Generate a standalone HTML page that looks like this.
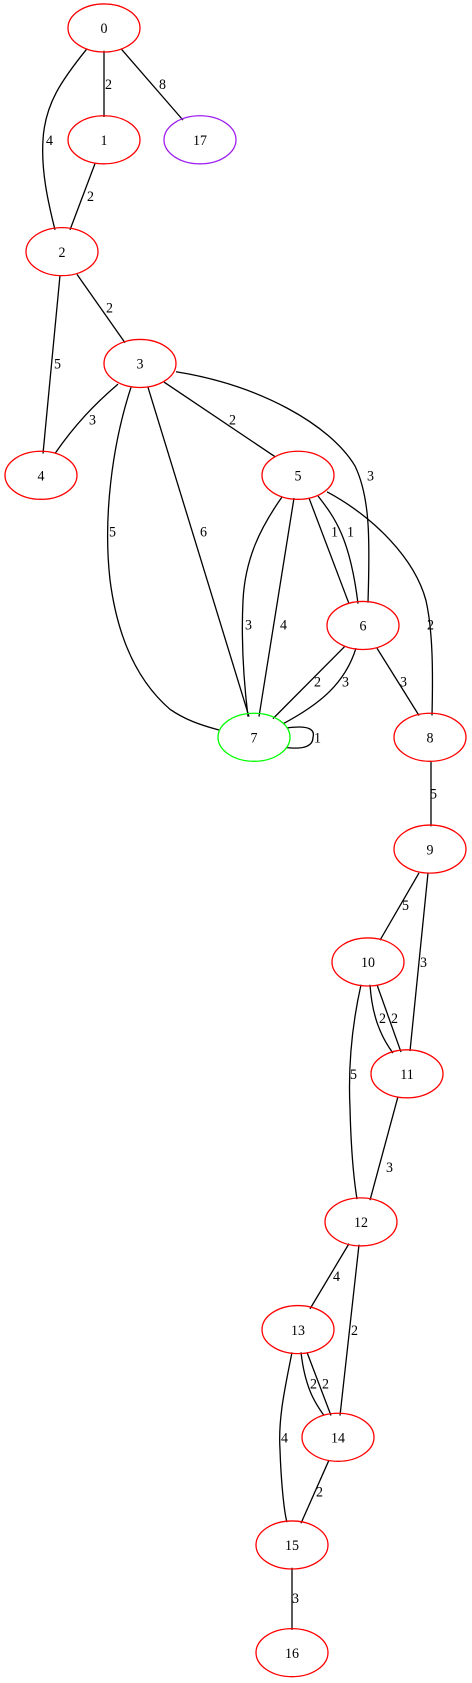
<!DOCTYPE html>
<html><head><meta charset="utf-8"><style>
html,body{margin:0;padding:0;background:#fff;}
svg{display:block;}
text{font-family:"Liberation Serif",serif;font-size:14px;fill:#000;}
.e{fill:none;stroke:#000;stroke-width:1.3;vector-effect:non-scaling-stroke;}
.n{fill:none;stroke:#f00;stroke-width:1.3;vector-effect:non-scaling-stroke;}
</style></head><body>
<svg width="472" height="1683" viewBox="0 0 472 1683" xmlns="http://www.w3.org/2000/svg">
<g transform="scale(1,1.0355)">
<g>
<path class="e" d="M104,49 L104,113"/>
<path class="e" d="M121,47 L183,116"/>
<path class="e" d="M87,47 C62,77 45,100 43,135 C41,165 48,195 55,222"/>
<path class="e" d="M95,158 L70,222"/>
<path class="e" d="M60,266 L43,438"/>
<path class="e" d="M77,265 L125,331"/>
<path class="e" d="M118,371 C95,390 75,410 55,438"/>
<path class="e" d="M131,374 C112,430 103,500 110,560 C118,620 140,660 170,685 C185,695 200,700 219,705"/>
<path class="e" d="M148,374 L249,692"/>
<path class="e" d="M164,369 L275,441"/>
<path class="e" d="M176,359 C260,372 330,410 355,450 C370,480 370,520 368,582"/>
<path class="e" d="M282,480 C260,510 245,540 243,580 C241,620 244,660 248,692"/>
<path class="e" d="M294,481 L259,692"/>
<path class="e" d="M309,481 L349,583"/>
<path class="e" d="M318,479 C335,500 350,520 358,583"/>
<path class="e" d="M327,475 C375,500 415,540 426,580 C433,610 433,650 432,691"/>
<path class="e" d="M345,624 L273,694"/>
<path class="e" d="M356,626 C345,660 320,680 283,699"/>
<path class="e" d="M377,626 L419,691"/>
<path class="e" d="M287,703 C310,700 315,705 313,712 C313,720 305,724 287,722"/>
<path class="e" d="M431,735 L431,798"/>
<path class="e" d="M419,843 L380,908"/>
<path class="e" d="M428,843 L410,1015"/>
<path class="e" d="M370,951 C372,980 380,1000 393,1017"/>
<path class="e" d="M377,951 L401,1016"/>
<path class="e" d="M361,951 C352,990 348,1030 350,1070 C351,1110 354,1140 357,1158"/>
<path class="e" d="M398,1059 L370,1159"/>
<path class="e" d="M349,1201 L310,1264"/>
<path class="e" d="M359,1202 L340,1367"/>
<path class="e" d="M301,1306 C305,1340 315,1355 324,1367"/>
<path class="e" d="M307,1306 L331,1367"/>
<path class="e" d="M292,1306 C285,1340 278,1370 280,1400 C281,1430 284,1460 287,1470"/>
<path class="e" d="M329,1410 L301,1471"/>
<path class="e" d="M292,1514 L292,1574"/>
</g>
<g>
<text x="105" y="86">2</text>
<text x="159" y="86">8</text>
<text x="46" y="140">4</text>
<text x="87" y="194">2</text>
<text x="54" y="356">5</text>
<text x="106" y="302">2</text>
<text x="89" y="410">3</text>
<text x="109" y="518">5</text>
<text x="200" y="518">6</text>
<text x="229" y="410">2</text>
<text x="367" y="464">3</text>
<text x="245" y="608">3</text>
<text x="280" y="608">4</text>
<text x="331" y="518">1</text>
<text x="347" y="518">1</text>
<text x="427" y="608">2</text>
<text x="314" y="663">2</text>
<text x="342" y="663">3</text>
<text x="400" y="663">3</text>
<text x="314" y="717">1</text>
<text x="430" y="771">5</text>
<text x="402" y="879">5</text>
<text x="420" y="934">3</text>
<text x="379" y="988">2</text>
<text x="391" y="988">2</text>
<text x="350" y="1042">5</text>
<text x="386" y="1132">3</text>
<text x="333" y="1237">4</text>
<text x="351" y="1289">2</text>
<text x="310" y="1341">2</text>
<text x="322" y="1341">2</text>
<text x="281" y="1393">4</text>
<text x="316" y="1445">2</text>
<text x="292" y="1548">3</text>
</g>
<g>
<ellipse class="n" cx="104" cy="27" rx="36" ry="23.2"/>
<ellipse class="n" cx="104" cy="135" rx="36" ry="23.2"/>
<ellipse class="n" cx="200" cy="135" rx="36" ry="23.2" style="stroke:#a020f0"/>
<ellipse class="n" cx="62" cy="243" rx="36" ry="23.2"/>
<ellipse class="n" cx="140" cy="351" rx="36" ry="23.2"/>
<ellipse class="n" cx="41" cy="459" rx="36" ry="23.2"/>
<ellipse class="n" cx="298" cy="459" rx="36" ry="23.2"/>
<ellipse class="n" cx="363" cy="604" rx="36" ry="23.2"/>
<ellipse class="n" cx="254" cy="712" rx="36" ry="23.2" style="stroke:#0f0"/>
<ellipse class="n" cx="430" cy="712" rx="36" ry="23.2"/>
<ellipse class="n" cx="430" cy="820" rx="36" ry="23.2"/>
<ellipse class="n" cx="368" cy="929" rx="36" ry="23.2"/>
<ellipse class="n" cx="407" cy="1037" rx="36" ry="23.2"/>
<ellipse class="n" cx="361" cy="1180" rx="36" ry="23.2"/>
<ellipse class="n" cx="298" cy="1284" rx="36" ry="23.2"/>
<ellipse class="n" cx="338" cy="1388" rx="36" ry="23.2"/>
<ellipse class="n" cx="292" cy="1492" rx="36" ry="23.2"/>
<ellipse class="n" cx="292" cy="1596" rx="36" ry="23.2"/>
</g>
<g text-anchor="middle">
<text x="104" y="32">0</text>
<text x="104" y="140">1</text>
<text x="200" y="140">17</text>
<text x="62" y="248">2</text>
<text x="140" y="356">3</text>
<text x="41" y="464">4</text>
<text x="298" y="464">5</text>
<text x="363" y="609">6</text>
<text x="254" y="717">7</text>
<text x="430" y="717">8</text>
<text x="430" y="825">9</text>
<text x="368" y="934">10</text>
<text x="407" y="1042">11</text>
<text x="361" y="1185">12</text>
<text x="298" y="1289">13</text>
<text x="338" y="1393">14</text>
<text x="292" y="1497">15</text>
<text x="292" y="1601">16</text>
</g>
</g>
</svg>
</body></html>
